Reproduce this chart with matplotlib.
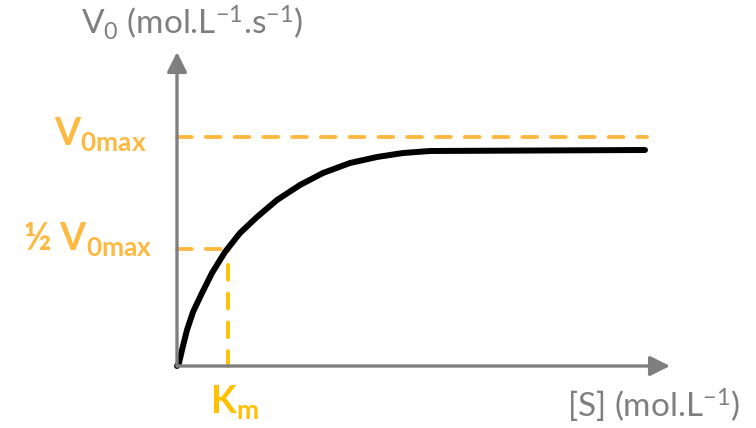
import matplotlib
matplotlib.use("Agg")
import matplotlib.pyplot as plt

plt.rcParams["font.family"] = ["Lato", "DejaVu Sans"]
plt.rcParams["mathtext.fontset"] = "custom"
plt.rcParams["mathtext.rm"] = "Lato"
plt.rcParams["mathtext.it"] = "Lato:italic"
plt.rcParams["mathtext.bf"] = "Lato:bold"

# curve (arbitrary units, origin at the axes corner)
substrate = [0, 2, 5, 10, 16, 25, 35, 48, 63, 80, 100, 123, 146, 173,
             200, 226, 253, 468]
velocity = [0, 3, 16, 36, 54, 73, 93, 114, 133, 149, 166, 181, 193, 203,
            209, 213, 215, 216]

v_max = 229
half_v_max = 117
k_m = 51
s_end = 470
x_axis_end = 493
y_axis_end = 314

grey = "#7f7f7f"
orange = "#ffb940"
yellow = "#ffc000"

fig = plt.figure(figsize=(7.56, 4.28), dpi=100)
ax = fig.add_axes([0, 0, 1, 1])
ax.set_xlim(-177, 756 - 177)
ax.set_ylim(366 - 428, 366)
ax.axis("off")

# axes with arrows
arrow = dict(arrowstyle="-|>,head_length=0.6,head_width=0.3", color=grey,
             lw=2.4, mutation_scale=20, shrinkA=0, shrinkB=0)
ax.annotate("", xy=(x_axis_end, 0), xytext=(0, 0), arrowprops=arrow)
ax.annotate("", xy=(0, y_axis_end), xytext=(0, 0), arrowprops=arrow)

# guide lines
dash = dict(lw=2.8, dashes=(3.8, 3.6), dash_capstyle="round")
ax.plot([0, s_end], [v_max, v_max], color=orange, **dash)
ax.plot([0, k_m], [half_v_max, half_v_max], color=orange, **dash)
ax.plot([k_m, k_m], [0, half_v_max], color=yellow, **dash)

# curve
ax.plot(substrate, velocity, color="black", lw=4.3, solid_capstyle="round",
        solid_joinstyle="round")

# labels
ax.text(-30, v_max - 8, r"$\mathbf{V_{0max}}$", color=orange, fontsize=27,
        ha="right", va="baseline")
ax.text(-25, half_v_max - 1, r"½ $\mathbf{V_{0max}}$", color=orange,
        fontsize=27, fontweight="bold", ha="right", va="baseline")
ax.text(k_m + 6, -47, r"$\mathbf{K_m}$", color=yellow, fontsize=27,
        ha="center", va="baseline")
ax.text(15, 331, r"V$_0$ (mol.L$^{-1}$.s$^{-1}$)", color=grey, fontsize=24,
        ha="center", va="baseline")
ax.text(563, -52, r"[S] (mol.L$^{-1}$)", color=grey, fontsize=24,
        ha="right", va="baseline")

fig.savefig("out.png", dpi=100)
